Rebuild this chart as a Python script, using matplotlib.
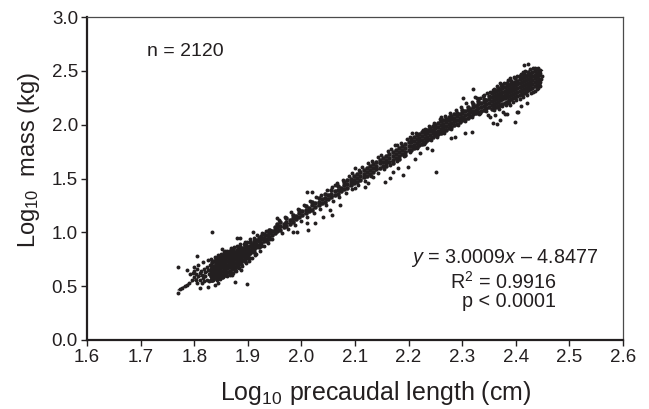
import matplotlib
matplotlib.use("Agg")
import matplotlib.pyplot as plt

plt.rcParams['font.family'] = ['Liberation Sans', 'DejaVu Sans']
plt.rcParams['mathtext.fontset'] = 'custom'
plt.rcParams['mathtext.rm'] = 'Liberation Sans'
plt.rcParams['mathtext.it'] = 'Liberation Sans:italic'

# ---------------- data ----------------
x_ticks = [1.6, 1.7, 1.8, 1.9, 2.0, 2.1, 2.2, 2.3, 2.4, 2.5, 2.6]
y_ticks = [0.0, 0.5, 1.0, 1.5, 2.0, 2.5, 3.0]

slope, intercept = 3.0009, -4.8477
fit_x = [1.77, 2.45]

tail_x = [1.770, 1.774, 1.778, 1.782, 1.786, 1.790, 1.792, 1.795, 1.797, 1.800, 1.800,
          1.803, 1.804, 1.806, 1.808, 1.810, 1.811, 1.813, 1.815, 1.816, 1.818, 1.820,
          1.821, 1.823, 1.824, 1.826, 1.828, 1.829]
tail_y = [0.440, 0.470, 0.480, 0.500, 0.515, 0.530, 0.612, 0.560, 0.625, 0.585, 0.640,
          0.555, 0.610, 0.655, 0.590, 0.625, 0.560, 0.645, 0.605, 0.575, 0.660, 0.630,
          0.590, 0.680, 0.560, 0.650, 0.610, 0.700]

low_x = [1.831, 1.834, 1.837, 1.840, 1.843, 1.846, 1.849, 1.852, 1.855, 1.858, 1.861,
         1.864, 1.867, 1.870, 1.873, 1.876, 1.879, 1.882, 1.885, 1.888, 1.891, 1.894,
         1.897, 1.900, 1.904, 1.908, 1.912, 1.916, 1.920, 1.925, 1.930, 1.935, 1.940,
         1.945, 1.950]
low_y = [[0.560, 0.595, 0.630, 0.660, 0.700],
         [0.555, 0.575, 0.610, 0.645, 0.680, 0.720],
         [0.580, 0.600, 0.620, 0.650, 0.690, 0.735],
         [0.575, 0.605, 0.640, 0.670, 0.705, 0.745],
         [0.590, 0.625, 0.660, 0.690, 0.725, 0.760],
         [0.580, 0.615, 0.650, 0.680, 0.715, 0.750, 0.775],
         [0.600, 0.635, 0.665, 0.700, 0.730, 0.765],
         [0.585, 0.605, 0.640, 0.675, 0.705, 0.740, 0.775],
         [0.615, 0.650, 0.685, 0.720, 0.750, 0.785],
         [0.600, 0.620, 0.655, 0.690, 0.725, 0.760, 0.795],
         [0.630, 0.665, 0.700, 0.735, 0.770, 0.800],
         [0.635, 0.675, 0.710, 0.745, 0.780, 0.815],
         [0.620, 0.645, 0.685, 0.720, 0.755, 0.790, 0.825],
         [0.655, 0.695, 0.730, 0.765, 0.800, 0.830],
         [0.670, 0.705, 0.740, 0.775, 0.810, 0.845],
         [0.650, 0.680, 0.715, 0.750, 0.785, 0.820],
         [0.695, 0.730, 0.765, 0.800, 0.835],
         [0.680, 0.705, 0.740, 0.775, 0.810, 0.845],
         [0.720, 0.755, 0.790, 0.825, 0.860],
         [0.705, 0.735, 0.770, 0.800, 0.835],
         [0.745, 0.780, 0.815, 0.850],
         [0.735, 0.760, 0.795, 0.830, 0.865],
         [0.775, 0.810, 0.845, 0.880],
         [0.760, 0.790, 0.825, 0.860],
         [0.805, 0.840, 0.875, 0.910],
         [0.825, 0.860, 0.895],
         [0.820, 0.845, 0.880, 0.915],
         [0.860, 0.895, 0.930],
         [0.860, 0.880, 0.915, 0.950],
         [0.900, 0.935, 0.965],
         [0.915, 0.950, 0.985],
         [0.920, 0.940, 0.975],
         [0.955, 0.990, 1.020],
         [0.975, 1.010],
         [0.990, 1.025, 1.050]]

low_edge_x = [1.800, 1.808, 1.817, 1.825, 1.832, 1.838, 1.844, 1.850, 1.856, 1.862,
              1.868, 1.874, 1.880, 1.886, 1.892, 1.898, 1.905, 1.912, 1.918, 1.926,
              1.934, 1.805, 1.818, 1.828, 1.835, 1.842, 1.848, 1.854, 1.860, 1.866,
              1.872, 1.878, 1.884, 1.890, 1.896, 1.902, 1.908, 1.914, 1.922, 1.930,
              1.938, 1.946]
low_edge_y = [0.680, 0.700, 0.720, 0.740, 0.755, 0.770, 0.790, 0.800, 0.815, 0.830,
              0.850, 0.865, 0.875, 0.890, 0.895, 0.910, 0.935, 0.950, 0.975, 0.995,
              1.010, 0.530, 0.545, 0.545, 0.560, 0.555, 0.570, 0.585, 0.600, 0.600,
              0.625, 0.640, 0.665, 0.690, 0.715, 0.735, 0.760, 0.790, 0.830, 0.870,
              0.905, 0.940]

mid_x = [1.955, 1.961, 1.967, 1.972, 1.978, 1.984, 1.990, 1.996, 2.002, 2.008, 2.014,
         2.020, 2.026, 2.032, 2.038, 2.044, 2.050, 2.056, 2.062, 2.068, 2.074, 2.080,
         2.086, 2.092, 2.098, 2.104, 2.110, 2.116, 2.122, 2.128, 2.134, 2.140, 2.146,
         2.152, 2.158, 2.164, 2.170, 2.176, 2.182, 2.188, 2.194, 2.200]
mid_y = [[1.010, 1.045, 1.075], [1.025, 1.060, 1.095], [1.045, 1.080],
         [1.060, 1.100, 1.130], [1.080, 1.115], [1.095, 1.135, 1.165],
         [1.120, 1.155], [1.140, 1.175, 1.205], [1.160, 1.195],
         [1.175, 1.210, 1.240], [1.195, 1.230], [1.210, 1.250, 1.280],
         [1.235, 1.270], [1.250, 1.285, 1.315], [1.270, 1.305],
         [1.285, 1.320, 1.355], [1.305, 1.345], [1.325, 1.360, 1.390],
         [1.345, 1.380], [1.360, 1.395, 1.430], [1.380, 1.415],
         [1.400, 1.435, 1.465], [1.415, 1.450, 1.485], [1.435, 1.470, 1.500],
         [1.455, 1.490, 1.520], [1.470, 1.505, 1.540], [1.490, 1.525, 1.560],
         [1.510, 1.545, 1.575], [1.525, 1.560, 1.595], [1.545, 1.580, 1.615],
         [1.565, 1.600, 1.635], [1.585, 1.620, 1.655], [1.600, 1.640, 1.675],
         [1.620, 1.655, 1.690], [1.615, 1.640, 1.675, 1.710], [1.655, 1.695, 1.730],
         [1.645, 1.675, 1.710, 1.750], [1.695, 1.730, 1.765],
         [1.680, 1.710, 1.750, 1.785], [1.730, 1.765, 1.800],
         [1.715, 1.745, 1.785, 1.820], [1.765, 1.800, 1.840]]

upmid_x = [2.205, 2.210, 2.215, 2.220, 2.225, 2.230, 2.235, 2.240, 2.245, 2.250,
           2.255, 2.260, 2.265, 2.270, 2.275, 2.280, 2.285, 2.290, 2.295, 2.300,
           2.305, 2.310, 2.315, 2.320, 2.325, 2.330, 2.335, 2.340, 2.345, 2.350]
upmid_y = [[1.765, 1.800, 1.835, 1.870], [1.780, 1.815, 1.850, 1.885],
           [1.795, 1.830, 1.865, 1.900], [1.810, 1.845, 1.880, 1.915],
           [1.825, 1.860, 1.895, 1.930], [1.840, 1.875, 1.910, 1.945],
           [1.855, 1.890, 1.925, 1.955], [1.870, 1.905, 1.940, 1.970],
           [1.885, 1.920, 1.955, 1.985], [1.900, 1.935, 1.970, 2.000],
           [1.910, 1.945, 1.980, 2.015], [1.925, 1.960, 1.995, 2.030],
           [1.940, 1.975, 2.010, 2.045], [1.955, 1.990, 2.025, 2.055],
           [1.970, 2.005, 2.040, 2.070], [1.980, 2.015, 2.050, 2.085],
           [1.995, 2.030, 2.065, 2.100], [2.010, 2.045, 2.080, 2.110],
           [2.025, 2.060, 2.095], [2.040, 2.075, 2.110, 2.140],
           [2.055, 2.090, 2.125], [2.065, 2.100, 2.135, 2.165],
           [2.080, 2.115, 2.150], [2.095, 2.130, 2.165, 2.195],
           [2.105, 2.140, 2.175], [2.120, 2.155, 2.190, 2.220],
           [2.130, 2.165, 2.200], [2.140, 2.175, 2.210, 2.240],
           [2.155, 2.190, 2.225], [2.165, 2.200, 2.235, 2.265]]

mid_edge_x = [1.958, 1.969, 1.981, 1.993, 2.005, 2.016, 2.027, 2.036, 2.047, 2.058,
              2.066, 2.077, 2.088, 2.095, 2.107, 2.113, 2.125, 2.131, 2.143, 2.149,
              2.161, 2.167, 2.179, 2.185, 2.197, 2.203, 2.214, 2.227, 2.238, 2.248,
              2.258, 2.268, 2.278, 2.288, 2.298, 2.308, 2.318, 2.328, 2.338, 2.346,
              1.963, 1.975, 1.988, 1.999, 2.011, 2.023, 2.035, 2.046, 2.059, 2.071,
              2.083, 2.094, 2.106, 2.118, 2.130, 2.142, 2.154, 2.166, 2.178, 2.191,
              2.203, 2.216, 2.228, 2.241, 2.253, 2.266, 2.279, 2.292, 2.305, 2.318,
              2.331, 2.344]
mid_edge_y = [1.115, 1.140, 1.185, 1.215, 1.255, 1.290, 1.330, 1.345, 1.390, 1.425,
              1.455, 1.490, 1.520, 1.555, 1.580, 1.610, 1.640, 1.660, 1.700, 1.715,
              1.755, 1.775, 1.810, 1.830, 1.870, 1.890, 1.925, 1.955, 1.990, 2.020,
              2.050, 2.085, 2.110, 2.140, 2.165, 2.200, 2.215, 2.245, 2.270, 2.290,
              0.990, 1.030, 1.070, 1.105, 1.145, 1.175, 1.215, 1.250, 1.290, 1.330,
              1.365, 1.405, 1.440, 1.475, 1.520, 1.550, 1.590, 1.630, 1.665, 1.705,
              1.745, 1.780, 1.820, 1.855, 1.890, 1.925, 1.960, 2.000, 2.030, 2.070,
              2.100, 2.130]

up_x = [2.355, 2.359, 2.363, 2.367, 2.371, 2.375, 2.379, 2.383, 2.387, 2.391, 2.395,
        2.399, 2.403, 2.407, 2.411, 2.415, 2.419, 2.423, 2.427, 2.431, 2.435, 2.439,
        2.443]
up_y = [[2.150, 2.185, 2.220, 2.255, 2.290],
        [2.160, 2.195, 2.230, 2.265, 2.300],
        [2.165, 2.205, 2.240, 2.275, 2.310],
        [2.175, 2.215, 2.250, 2.285, 2.320, 2.345],
        [2.185, 2.225, 2.260, 2.295, 2.330],
        [2.195, 2.235, 2.270, 2.305, 2.340, 2.365],
        [2.205, 2.245, 2.280, 2.315, 2.350],
        [2.215, 2.255, 2.290, 2.325, 2.360, 2.390],
        [2.225, 2.265, 2.300, 2.335, 2.370],
        [2.235, 2.275, 2.310, 2.345, 2.380, 2.410],
        [2.245, 2.285, 2.320, 2.355, 2.390],
        [2.255, 2.295, 2.330, 2.365, 2.400, 2.430],
        [2.265, 2.305, 2.340, 2.375, 2.410],
        [2.275, 2.315, 2.350, 2.385, 2.420, 2.450],
        [2.285, 2.325, 2.360, 2.395, 2.430],
        [2.295, 2.335, 2.370, 2.405, 2.440, 2.470],
        [2.305, 2.345, 2.380, 2.415, 2.450],
        [2.320, 2.355, 2.390, 2.425, 2.460, 2.490],
        [2.330, 2.365, 2.400, 2.435, 2.470],
        [2.340, 2.380, 2.415, 2.450, 2.485],
        [2.355, 2.395, 2.430, 2.465, 2.500],
        [2.370, 2.410, 2.445, 2.480],
        [2.390, 2.425, 2.460, 2.495]]

up_edge_x = [2.352, 2.358, 2.365, 2.372, 2.378, 2.385, 2.390, 2.397, 2.402, 2.409,
             2.413, 2.418, 2.426, 2.433, 2.438, 2.442, 2.446, 2.448, 2.446,
             2.360, 2.368, 2.374, 2.381, 2.388, 2.394, 2.401, 2.408, 2.414, 2.421,
             2.428, 2.436, 2.442, 2.446]
up_edge_y = [2.300, 2.325, 2.355, 2.370, 2.385, 2.415, 2.430, 2.445, 2.455, 2.475,
             2.490, 2.500, 2.515, 2.525, 2.515, 2.530, 2.480, 2.450, 2.400,
             2.140, 2.150, 2.170, 2.180, 2.200, 2.215, 2.225, 2.240, 2.255, 2.275,
             2.290, 2.315, 2.345, 2.360]

out_x = [1.851, 1.857, 1.879, 1.885, 1.895, 1.910, 1.932, 1.833, 1.770, 1.786, 1.805,
         1.811, 1.814, 1.826, 1.839, 1.845, 1.876, 1.898, 1.862, 1.870, 1.888, 1.905,
         1.915, 1.925, 1.941, 1.954, 1.941,
         2.100, 2.175, 2.206, 2.125, 2.134, 2.156, 2.165, 2.171, 2.181, 2.190, 2.199,
         2.212, 2.221, 2.234, 2.243, 2.100, 2.119, 2.010, 2.019, 2.063, 1.985, 1.991,
         2.013, 2.010, 2.025, 2.053, 2.057, 2.041, 2.072, 2.230, 2.260,
         2.423, 2.415, 2.435, 2.445, 2.447, 2.444, 2.440, 2.432, 2.321, 2.302, 2.324,
         2.333, 2.352, 2.361, 2.358, 2.377, 2.383, 2.402, 2.399, 2.371, 2.333, 2.318,
         2.305, 2.287, 2.280, 2.251, 2.404, 2.380, 2.349, 2.364, 2.410, 2.420, 2.390,
         2.340, 2.360, 2.370]
out_y = [0.845, 0.827, 0.950, 0.950, 0.913, 1.006, 0.975, 1.000, 0.681, 0.650, 0.783,
         0.480, 0.526, 0.495, 0.511, 0.526, 0.542, 0.517, 0.590, 0.600, 0.650, 0.760,
         0.800, 0.870, 0.940, 1.130, 1.022,
         1.600, 1.811, 1.920, 1.455, 1.517, 1.470, 1.502, 1.563, 1.594, 1.532, 1.610,
         1.678, 1.734, 1.780, 1.765, 1.409, 1.424, 1.378, 1.378, 1.440, 1.006, 1.006,
         1.022, 1.084, 1.084, 1.207, 1.161, 1.145, 1.254, 1.960, 2.070,
         2.561, 2.550, 2.530, 2.508, 2.420, 2.370, 2.330, 2.300, 2.328, 2.251, 2.254,
         2.245, 2.074, 2.090, 2.012, 2.120, 2.096, 2.120, 2.028, 2.043, 2.105, 1.935,
         1.920, 1.888, 1.873, 1.557, 2.115, 2.100, 2.090, 2.010, 2.170, 2.200, 2.180,
         2.280, 2.330, 2.390]

# ---------------- figure ----------------
fig = plt.figure(figsize=(6.49, 4.09), dpi=100)
ax = fig.add_axes([87/649, 1-340/409, 536/649, 323/409])

ink = '#231f20'
core_kw = dict(s=11, c=ink, linewidths=0, zorder=3)
dot_kw = dict(s=8, c=ink, linewidths=0, zorder=3)

def columns(xs, ys):
    px, py = [], []
    for xv, col in zip(xs, ys):
        for yv in col:
            px.append(xv)
            py.append(yv)
    return px, py

ax.scatter(tail_x, tail_y, **dot_kw)
for xs, ys in [(low_x, low_y), (mid_x, mid_y), (upmid_x, upmid_y), (up_x, up_y)]:
    px, py = columns(xs, ys)
    ax.scatter(px, py, **core_kw)
ax.scatter(low_edge_x, low_edge_y, **dot_kw)
ax.scatter(mid_edge_x, mid_edge_y, **dot_kw)
ax.scatter(up_edge_x, up_edge_y, **dot_kw)
ax.scatter(out_x, out_y, **dot_kw)

ax.plot(fit_x, [slope*v + intercept for v in fit_x], color=ink, lw=0.8, zorder=2)

ax.set_xlim(1.6, 2.6)
ax.set_ylim(0.0, 3.0)
ax.set_xticks(x_ticks)
ax.set_yticks(y_ticks)
ax.set_xticklabels([f"{v:.1f}" for v in x_ticks])
ax.set_yticklabels([f"{v:.1f}" for v in y_ticks])
ax.tick_params(axis='both', direction='out', length=4, width=1.0, labelsize=13.5,
               colors=ink, pad=2.5)

for s in ['left', 'bottom']:
    ax.spines[s].set_linewidth(1.6)
    ax.spines[s].set_color(ink)
for s in ['top', 'right']:
    ax.spines[s].set_linewidth(0.9)
    ax.spines[s].set_color('#4a4a4a')

ax.set_xlabel('Log$_{10}$ precaudal length (cm)', fontsize=18, color=ink)
ax.set_ylabel('Log$_{10}$  mass (kg)', fontsize=17, color=ink)
ax.xaxis.set_label_coords(0.539, -0.12)
ax.yaxis.set_label_coords(-0.084, 0.557)

ax.text(1.712, 2.675, 'n = 2120', fontsize=14, ha='left', va='center', color=ink)
ax.text(2.379, 0.759, '$y$ = 3.0009$x$ \u2013 4.8477', fontsize=14.2, ha='center',
        va='center', color=ink)
ax.text(2.377, 0.541, 'R$^2$ = 0.9916', fontsize=14.2, ha='center', va='center',
        color=ink)
ax.text(2.387, 0.356, 'p < 0.0001', fontsize=14.2, ha='center', va='center',
        color=ink)

fig.savefig('out.png', dpi=100)
